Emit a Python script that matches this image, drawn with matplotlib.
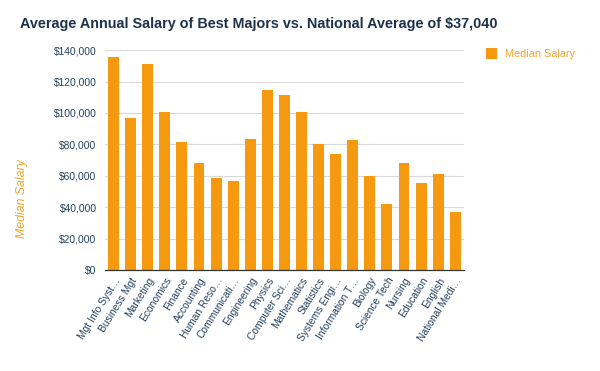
import matplotlib
matplotlib.use("Agg")
import matplotlib.pyplot as plt
from matplotlib.ticker import FuncFormatter, MultipleLocator

categories = ["Mgt Info Syst…", "Business Mgt", "Marketing", "Economics", "Finance",
              "Accounting", "Human Reso…", "Communicati…", "Engineering", "Physics",
              "Computer Sci…", "Mathematics", "Statistics", "Systems Engi…",
              "Information T…", "Biology", "Science Tech", "Nursing", "Education",
              "English", "National Medi…"]
salaries = [135800, 96800, 131100, 100800, 81500, 68200, 58700, 56800, 83400, 114700,
            111500, 100800, 80200, 73900, 83000, 60000, 42300, 68200, 55400, 61300,
            37040]
series_name = "Median Salary"
title = "Average Annual Salary of Best Majors vs. National Average of $37,040"

plt.rcParams['font.family'] = ['Liberation Sans', 'DejaVu Sans']
bar_color = "#F59A10"
text_blue = "#23415f"
orange_text = "#F0A52A"

fig = plt.figure(figsize=(6, 3.71), dpi=100)
ax = fig.add_axes([0.175, 0.272, 0.598, 0.593])

x = list(range(len(categories)))
bars = ax.bar(x, salaries, width=0.64, color=bar_color, label=series_name, zorder=3)
ax.set_xlim(-0.5, len(categories) - 0.5)
ax.set_ylim(0, 140000)
ax.yaxis.set_major_locator(MultipleLocator(20000))
ax.yaxis.set_major_formatter(FuncFormatter(lambda v, p: "${:,.0f}".format(v)))
ax.grid(axis='y', color='#d9d9d9', linewidth=0.8, zorder=0)
for s in ['top', 'right', 'left']:
    ax.spines[s].set_visible(False)
ax.spines['bottom'].set_color('#333333')
ax.spines['bottom'].set_linewidth(0.9)
ax.spines['bottom'].set_zorder(4)

ax.set_xticks(x)
ax.set_xticklabels(categories, rotation=58, ha='right', rotation_mode='anchor',
                   fontsize=7.4, color=text_blue)
ax.tick_params(axis='x', length=0, pad=4)
ax.tick_params(axis='y', length=0, pad=6, labelsize=7.4, labelcolor=text_blue)

fig.text(0.037, 0.465, series_name, rotation=90, style='italic', color=orange_text,
         fontsize=8.8, ha='center', va='center')
fig.text(0.034, 0.935, title, fontsize=10.4, fontweight='bold', color='#1c324d',
         ha='left', va='center')

leg = fig.legend(handles=[bars], labels=[series_name], loc='upper left',
                 bbox_to_anchor=(0.793, 0.897), frameon=False, fontsize=7.8,
                 handlelength=1.05, handleheight=1.2, handletextpad=0.7)
for t in leg.get_texts():
    t.set_color(orange_text)

fig.savefig("out.png", dpi=100)
